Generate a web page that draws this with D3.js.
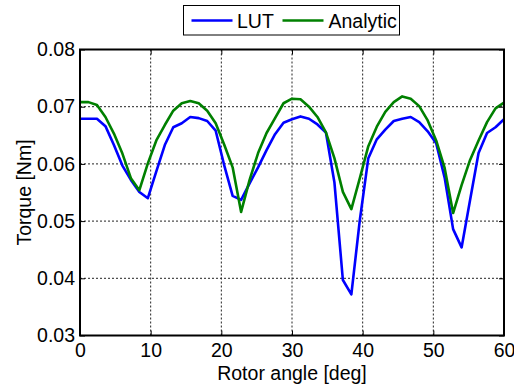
<!DOCTYPE html>
<html>
<head>
<meta charset="utf-8">
<script src="https://cdn.jsdelivr.net/npm/d3@7"></script>
<style>
  body { margin: 0; background: #fff; }
  svg { display: block; font-family: "Liberation Sans", Arial, sans-serif; }
</style>
</head>
<body>
<svg id="chart" width="514" height="387"></svg>
<script>
// rotor angle [deg]
var angles = [0, 1.2, 2.4, 3.6, 4.8, 6, 7.2, 8.4, 9.6, 10.8,
  12, 13.2, 14.4, 15.6, 16.8, 18, 19.2, 20.4, 21.6, 22.8,
  24, 25.2, 26.4, 27.6, 28.8, 30, 31.2, 32.4, 33.6, 34.8,
  36, 37.2, 38.4, 39.6, 40.8, 42, 43.2, 44.4, 45.6, 46.8,
  48, 49.2, 50.4, 51.6, 52.8, 54, 55.2, 56.4, 57.6, 58.8, 60];

// torque from lookup table
var lutTorque = [0.0679, 0.0679, 0.0679, 0.0666, 0.0633, 0.0597, 0.0572, 0.0551, 0.0540, 0.0587,
  0.0633, 0.0664, 0.0671, 0.0682, 0.0680, 0.0675, 0.0658, 0.0598, 0.0544, 0.0537,
  0.0566, 0.0594, 0.0624, 0.0652, 0.0672, 0.0678, 0.0683, 0.0679, 0.0669, 0.0655,
  0.0568, 0.0397, 0.0372, 0.0502, 0.0610, 0.0643, 0.0660, 0.0675, 0.0679, 0.0682,
  0.0673, 0.0657, 0.0636, 0.0576, 0.0486, 0.0454, 0.0537, 0.0619, 0.0654, 0.0664, 0.0678];

// analytic torque
var analyticTorque = [0.0708, 0.0708, 0.0703, 0.0682, 0.0653, 0.0618, 0.0575, 0.0554, 0.0601, 0.0641,
  0.0668, 0.0693, 0.0706, 0.0710, 0.0706, 0.0693, 0.0671, 0.0634, 0.0594, 0.0516,
  0.0572, 0.0619, 0.0654, 0.0680, 0.0706, 0.0714, 0.0713, 0.0700, 0.0682, 0.0655,
  0.0610, 0.0551, 0.0521, 0.0575, 0.0631, 0.0665, 0.0691, 0.0708, 0.0718, 0.0714,
  0.0701, 0.0676, 0.0641, 0.0593, 0.0514, 0.0563, 0.0607, 0.0641, 0.0673, 0.0697, 0.0707];

var xTicks = [0, 10, 20, 30, 40, 50, 60];
var yTicks = [0.03, 0.04, 0.05, 0.06, 0.07, 0.08];

var seriesNames = ['LUT', 'Analytic'];
var seriesColors = ['#0000ff', '#008000'];

// margin svg
var margin = {top: 49.5, right: 10, bottom: 51.5, left: 80},
  width = 514 - margin.left - margin.right,
  height = 387 - margin.top - margin.bottom;

var x = d3.scaleLinear().domain([0, 60]).range([0, width]);
var y = d3.scaleLinear().domain([0.03, 0.08]).range([height, 0]);

var svg = d3.select('#chart');
var g = svg.append('g')
  .attr('transform', 'translate(' + margin.left + ',' + margin.top + ')');

// grid
g.append('g').selectAll('line')
  .data(xTicks.slice(1, -1))
  .enter().append('line')
  .attr('x1', function(d) { return x(d); })
  .attr('x2', function(d) { return x(d); })
  .attr('y1', 0).attr('y2', height)
  .attr('stroke', '#222').attr('stroke-width', 1)
  .attr('stroke-dasharray', '2,2');

g.append('g').selectAll('line')
  .data(yTicks.slice(1, -1))
  .enter().append('line')
  .attr('y1', function(d) { return y(d); })
  .attr('y2', function(d) { return y(d); })
  .attr('x1', 0).attr('x2', width)
  .attr('stroke', '#222').attr('stroke-width', 1)
  .attr('stroke-dasharray', '2,2');

// lines
var line = d3.line()
  .x(function(d) { return x(d[0]); })
  .y(function(d) { return y(d[1]); });

[lutTorque, analyticTorque].forEach(function(vals, k) {
  g.append('path')
    .datum(angles.map(function(a, i) { return [a, vals[i]]; }))
    .attr('fill', 'none')
    .attr('stroke', seriesColors[k])
    .attr('stroke-width', 2.6)
    .attr('stroke-linejoin', 'round')
    .attr('d', line);
});

// axes
var fmt = d3.format('.2f');
var xAxis = d3.axisBottom(x).tickValues(xTicks).tickSize(-5).tickPadding(8).tickFormat(d3.format('d'));
var yAxis = d3.axisLeft(y).tickValues(yTicks).tickSize(-5).tickPadding(5).tickFormat(fmt);

g.append('g')
  .attr('class', 'x axis')
  .attr('transform', 'translate(0,' + height + ')')
  .call(xAxis);
g.append('g')
  .attr('class', 'y axis')
  .call(yAxis);
g.append('g')
  .attr('transform', 'translate(0,0)')
  .call(d3.axisTop(x).tickValues(xTicks).tickSize(-5).tickFormat(''));
g.append('g')
  .attr('transform', 'translate(' + width + ',0)')
  .call(d3.axisRight(y).tickValues(yTicks).tickSize(-5).tickFormat(''));

g.selectAll('.domain').remove();
g.selectAll('.tick line').attr('stroke', '#000').attr('stroke-width', 1);
g.selectAll('.tick text')
  .attr('fill', '#000')
  .style('font-size', '19.5px')
  .style('font-family', '"Liberation Sans", Arial, sans-serif');

// box
g.append('rect')
  .attr('x', 0).attr('y', 0)
  .attr('width', width).attr('height', height)
  .attr('fill', 'none')
  .attr('stroke', '#000').attr('stroke-width', 2);

// labels
svg.append('text')
  .attr('x', margin.left + width / 2)
  .attr('y', 379.5)
  .attr('text-anchor', 'middle')
  .style('font-size', '19.5px')
  .text('Rotor angle [deg]');

svg.append('text')
  .attr('transform', 'translate(31,' + (margin.top + height / 2) + ') rotate(-90)')
  .attr('text-anchor', 'middle')
  .style('font-size', '19.5px')
  .text('Torque [Nm]');

// legend
var legend = svg.append('g');
legend.append('rect')
  .attr('x', 183.5).attr('y', 5.5)
  .attr('width', 216).attr('height', 29.5)
  .attr('fill', '#fff')
  .attr('stroke', '#000').attr('stroke-width', 1);

var legendX = [[191.5, 232.5, 237], [282.5, 323.5, 328.5]];
seriesNames.forEach(function(name, k) {
  legend.append('line')
    .attr('x1', legendX[k][0]).attr('x2', legendX[k][1])
    .attr('y1', 20.5).attr('y2', 20.5)
    .attr('stroke', seriesColors[k]).attr('stroke-width', 2.6);
  legend.append('text')
    .attr('x', legendX[k][2]).attr('y', 28)
    .style('font-size', '19.5px')
    .text(name);
});
</script>
</body>
</html>
